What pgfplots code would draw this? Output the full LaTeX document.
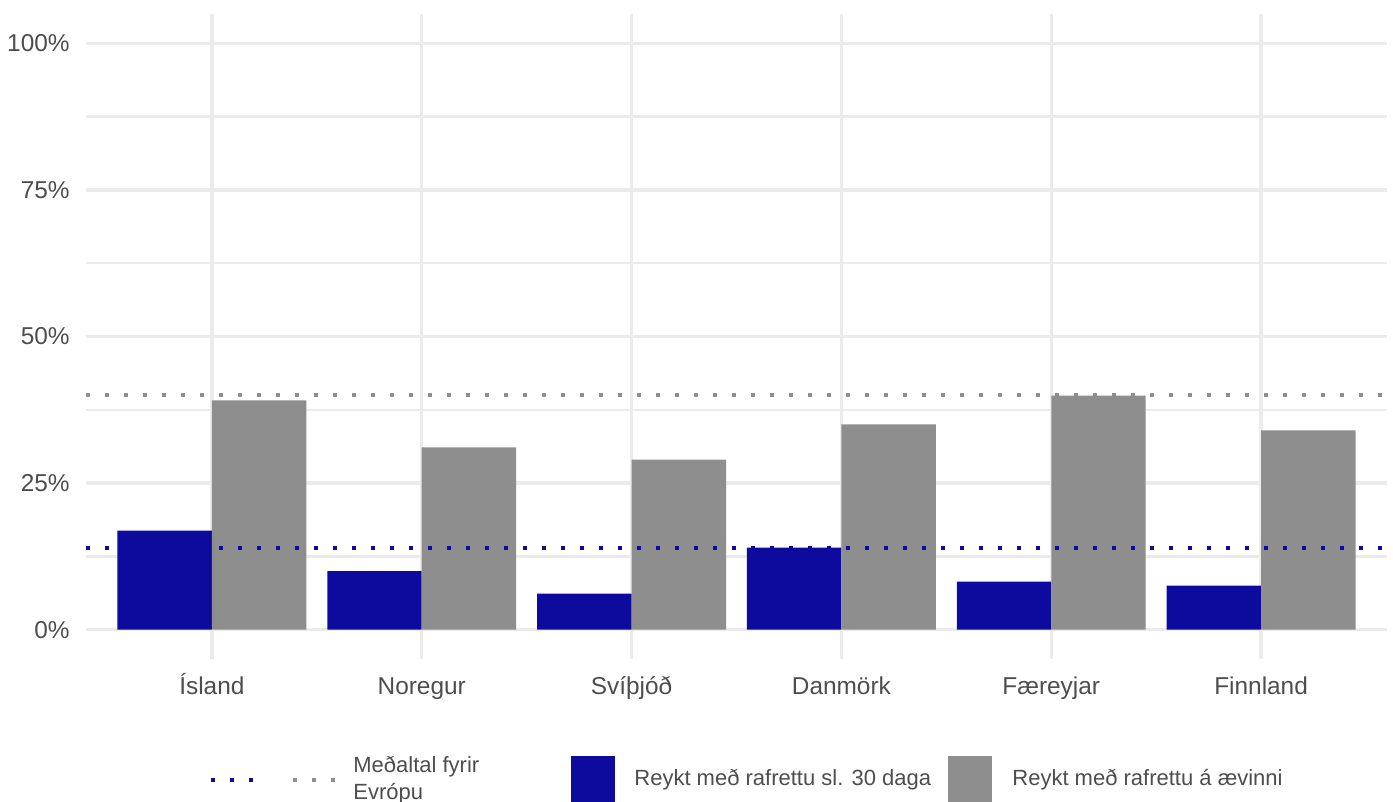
\documentclass[border=0pt]{standalone}
\usepackage{pgfplots}
\pgfplotsset{compat=1.18}
\usepackage{fontspec}
\setmainfont{Liberation Sans}
\definecolor{bblue}{HTML}{0D0A9E}
\definecolor{bgrey}{HTML}{8E8E8E}
\definecolor{gridc}{HTML}{EBEBEB}
\definecolor{txt}{HTML}{4D4D4D}
\begin{document}
\begin{tikzpicture}
\clip (-43pt,-71.5pt) rectangle (653.5pt,329.5pt);
\begin{axis}[
  scale only axis, width=650.5pt, height=322.5pt,
  xmin=0.4, xmax=6.6, ymin=-5, ymax=105,
  axis line style={draw=none},
  major tick length=0pt, minor tick length=0pt,
  xtick={1,...,6},
  xticklabels={Ísland,Noregur,Svíþjóð,Danmörk,Færeyjar,Finnland},
  ytick={0,25,50,75,100},
  yticklabels={0\%,25\%,50\%,75\%,100\%},
  minor ytick={12.5,37.5,62.5,87.5},
  grid=both,
  major grid style={gridc, line width=1.6pt},
  minor grid style={gridc, line width=1.2pt},
  xticklabel style={font=\fontsize{12.2}{14}\selectfont, text=txt, anchor=north, inner sep=0pt, text height=8.7pt, text depth=2.6pt, yshift=-9pt},
  yticklabel style={font=\fontsize{12.2}{14}\selectfont, text=txt, anchor=east, inner sep=0pt, xshift=-8pt},
  clip=false,
]
\addplot[ybar, bar width=0.45, bar shift=-0.225, fill=bblue, draw=none]
  coordinates {(1,16.9) (2,10) (3,6.15) (4,14) (5,8.2) (6,7.5)};
\addplot[ybar, bar width=0.45, bar shift=0.225, fill=bgrey, draw=none]
  coordinates {(1,39.1) (2,31.1) (3,29) (4,35) (5,39.9) (6,34)};
\addplot[bblue, line width=2pt, dash pattern=on 2pt off 7.5pt]
  coordinates {(0.4,14) (6.6,14)};
\addplot[bgrey, line width=2pt, dash pattern=on 2pt off 7.5pt]
  coordinates {(0.4,40) (6.6,40)};
\end{axis}
% legend
\draw[bblue, line width=2pt, dash pattern=on 2pt off 7.5pt] (62.5pt,-60.5pt) -- (84.5pt,-60.5pt);
\draw[bgrey, line width=2pt, dash pattern=on 2pt off 7.5pt] (103.5pt,-60.5pt) -- (125.5pt,-60.5pt);
\node[anchor=west, align=left, inner sep=0pt, text=txt, font=\fontsize{11}{13.5}\selectfont] at (133.5pt,-60.5pt) {Meðaltal fyrir\\Evrópu};
\fill[bblue] (242.5pt,-48.5pt) rectangle (264.5pt,-75pt);
\node[anchor=west, inner sep=0pt, text=txt, font=\fontsize{11}{13.5}\selectfont] at (274pt,-60.5pt) {Reykt með rafrettu sl. 30 daga};
\fill[bgrey] (431pt,-48.5pt) rectangle (453pt,-75pt);
\node[anchor=west, inner sep=0pt, text=txt, font=\fontsize{11}{13.5}\selectfont] at (463pt,-60.5pt) {Reykt með rafrettu á ævinni};
\end{tikzpicture}
\end{document}
